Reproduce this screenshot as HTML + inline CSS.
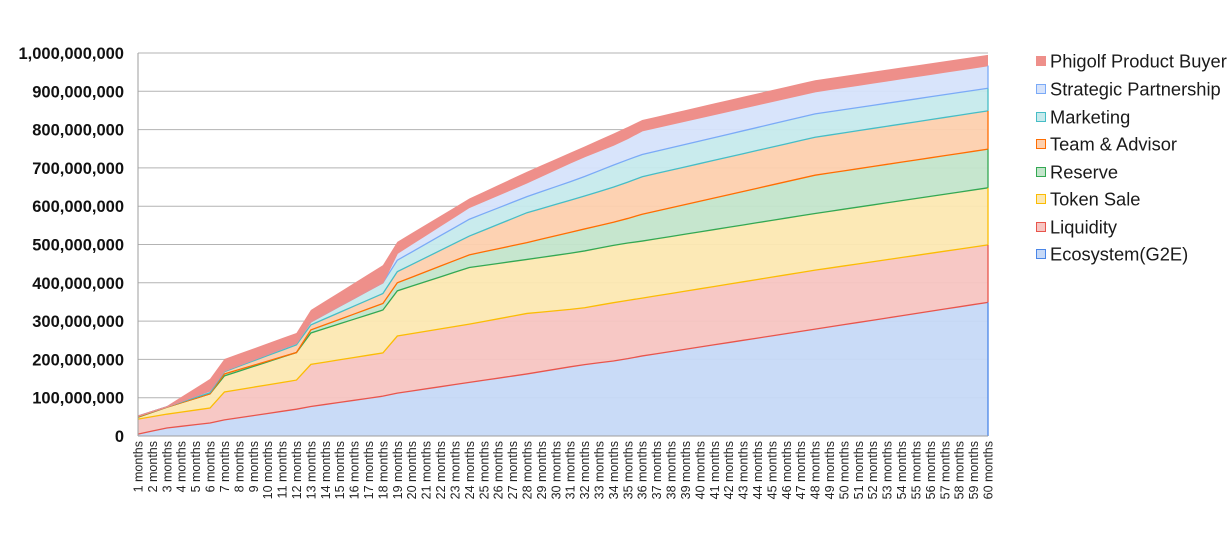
<!DOCTYPE html>
<html><head><meta charset="utf-8"><style>
html,body{margin:0;padding:0;background:#fff;}
svg{display:block;font-family:"Liberation Sans",Arial,sans-serif;}
</style></head><body>
<svg id="c" width="1232" height="536" viewBox="0 0 1232 536" xmlns="http://www.w3.org/2000/svg"></svg>
<script>
const svg=document.getElementById('c');
const NS='http://www.w3.org/2000/svg';
function el(t,a,txt){const e=document.createElementNS(NS,t);for(const k in a)e.setAttribute(k,a[k]);if(txt!==undefined)e.textContent=txt;svg.appendChild(e);return e;}
const X0=138,X1=988,Y0=436,Y1=53;
const px=m=>X0+(m-1)*(X1-X0)/59;
const py=v=>Y0-v*(Y0-Y1)/1000;
const M=[1,3,6,7,12,13,18,19,24,28,31.7,34.45,36,48,60];
const D=[
[5,21,34,42,70,77,104,112,140,162,185,198,209,279,349],
[44,57,73,115,146,187,217,261,292,320,333,351,360,433,499],
[49,75,110,157,218,269,329,379,440,461,481,501,509,581,648],
[50,75,110,162,218,277,346,400,473,505,538,562,579,681,749],
[52,76,113,168,238,290,372,429,522,583,623,655,677,780,849],
[52,76,118,170,242,298,400,459,566,625,673,714,735,841,908],
[52,76,118,170,242,298,400,477,597,661,725,766,797,899,967],
[54,78,149,201,269,329,446,507,620,690,751,797,825,929,995]];
function interp(arr,m){for(let i=0;i<M.length-1;i++){if(m>=M[i]&&m<=M[i+1]){const t=(m-M[i])/(M[i+1]-M[i]);return arr[i]+t*(arr[i+1]-arr[i]);}}return arr[arr.length-1];}
const S=D.map(a=>{const r=[];for(let m=1;m<=60;m++)r.push(interp(a,m));return r;});
const fills=['#c6d9f7','#f7c5c2','#fce8b2','#c3e5cb','#fdd0ae','#c6eaec','#d6e3fb','#ee8f8a'];
const strokes=['#4a86e8','#e8554c','#fbbc04','#34a853','#ff6d01','#46bdc6','#7baaf7','#ee8f8a'];
for(let i=0;i<=10;i++){const y=py(i*100);el('line',{x1:X0,x2:X1,y1:y,y2:y,stroke:'#b3b3b3','stroke-width':1});
el('text',{x:124,y:y+6,'text-anchor':'end','font-size':'16.5','font-weight':'bold',fill:'#111'},(i*100000000).toLocaleString('en-US'));}
for(let s=0;s<8;s++){
 let d='';for(let m=0;m<60;m++)d+=(m?'L':'M')+px(m+1).toFixed(2)+','+py(S[s][m]).toFixed(2);
 for(let m=59;m>=0;m--)d+='L'+px(m+1).toFixed(2)+','+py(s?S[s-1][m]:0).toFixed(2);
 el('path',{d:d+'Z',fill:fills[s],'fill-opacity':s===7?1:0.95,stroke:'none'});
}
for(let s=0;s<7;s++){
 let d='';for(let m=0;m<60;m++)d+=(m?'L':'M')+px(m+1).toFixed(2)+','+py(S[s][m]).toFixed(2);
 el('path',{d:d,fill:'none',stroke:strokes[s+1],'stroke-width':1.3});
 el('line',{x1:X1,x2:X1,y1:py(s?S[s-1][59]:0),y2:py(S[s][59]),stroke:strokes[s],'stroke-width':1.3});
}
el('line',{x1:X1,x2:X1,y1:py(S[6][59]),y2:py(S[5][59]),stroke:strokes[6],'stroke-width':1});
el('line',{x1:X0,x2:X0,y1:Y1,y2:Y0,stroke:'#9e9e9e','stroke-width':1});
el('line',{x1:X0,x2:X1,y1:Y0,y2:Y0,stroke:'#9e9e9e','stroke-width':1});
for(let m=1;m<=60;m++){const x=px(m)+4.5;el('text',{x:x,y:441,transform:`rotate(-90 ${x} 441)`,'text-anchor':'end','font-size':'12.5',fill:'#222'},m+' months');}
const names=['Phigolf Product Buyer','Strategic Partnership','Marketing','Team & Advisor','Reserve','Token Sale','Liquidity','Ecosystem(G2E)'];
const ys=[61,89,117,144,172,199,227,254];
for(let i=0;i<8;i++){const s=7-i;
 el('rect',{x:1036.5,y:ys[i]-4.5,width:9,height:9,fill:fills[s],stroke:strokes[s],'stroke-width':1});
 el('text',{x:1050,y:ys[i]+6.5,'font-size':'18.3',fill:'#1a1a1a'},names[i]);}
</script>
</body></html>
